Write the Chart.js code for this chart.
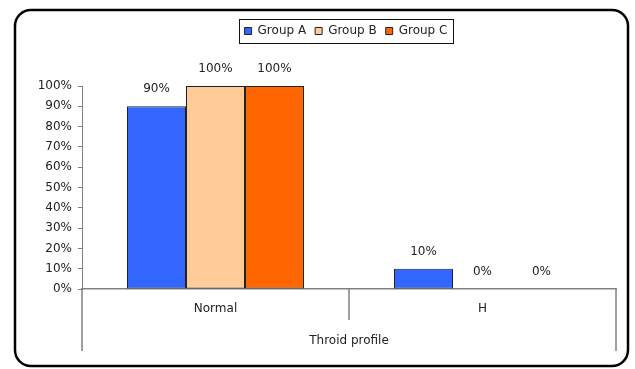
<!DOCTYPE html>
<html>
<head>
<meta charset="utf-8">
<title>Throid profile</title>
<script src="https://cdn.jsdelivr.net/npm/chart.js@4/dist/chart.umd.min.js"></script>
<style>
  html, body { margin: 0; padding: 0; background: #ffffff; }
  #wrap { width: 635px; height: 369px; position: relative; }
</style>
</head>
<body>
<div id="wrap"><canvas id="chart"></canvas></div>
<script>
// Categories and series (percent of each group)
const categories = ['Normal', 'H'];
const seriesNames = ['Group A', 'Group B', 'Group C'];
const groupA = [90, 10];
const groupB = [100, 0];
const groupC = [100, 0];
const seriesColors = ['#3366FF', '#FFCC99', '#FF6600'];
const axisTitle = 'Throid profile';
const yMax = 100;
const yStep = 10;

const FONT = 'DejaVu Sans';
const TEXT = '#222222';
const AXIS = '#808080';

// Keep the legend centred over the plot area rather than the whole canvas
const legendOverPlot = {
  id: 'legendOverPlot',
  afterLayout(chart) {
    const lg = chart.legend;
    const area = chart.chartArea;
    if (!lg || !area) return;
    const shift = (area.left + area.right) / 2 - (lg.left + lg.right) / 2 - 3;
    lg.left += shift;
    lg.right += shift;
  }
};

// Value labels above each bar
const valueLabels = {
  id: 'valueLabels',
  afterDatasetsDraw(chart) {
    const ctx = chart.ctx;
    ctx.save();
    ctx.font = '12px "' + FONT + '"';
    ctx.fillStyle = TEXT;
    ctx.textAlign = 'center';
    ctx.textBaseline = 'middle';
    chart.data.datasets.forEach((ds, di) => {
      const meta = chart.getDatasetMeta(di);
      meta.data.forEach((el, i) => {
        ctx.fillText(ds.data[i] + '%', el.x, el.y - 17);
      });
    });
    ctx.restore();
  }
};

// Category separators, framed legend and rounded outer border
const frame = {
  id: 'frame',
  afterDraw(chart) {
    const ctx = chart.ctx;
    const area = chart.chartArea;
    const xs = chart.scales.x;
    ctx.save();

    // multi-level category axis lines
    ctx.strokeStyle = AXIS;
    ctx.lineWidth = 1.5;
    const low = xs.bottom - 1;
    const mid = (xs.getPixelForValue(0) + xs.getPixelForValue(1)) / 2;
    ctx.beginPath();
    ctx.moveTo(area.left, area.bottom); ctx.lineTo(area.left, low);
    ctx.moveTo(area.right, area.bottom); ctx.lineTo(area.right, low);
    ctx.moveTo(mid, area.bottom); ctx.lineTo(mid, area.bottom + 31);
    ctx.stroke();

    // box around legend items
    const hb = chart.legend.legendHitBoxes;
    if (hb && hb.length) {
      const first = hb[0], last = hb[hb.length - 1];
      ctx.strokeStyle = '#111111';
      ctx.lineWidth = 1;
      const l = Math.round(first.left - 6) + 0.5;
      const r = Math.round(last.left + last.width + 6) + 0.5;
      const t = Math.round(first.top - 6) + 0.5;
      const b = Math.round(first.top + first.height + 6) + 0.5;
      ctx.strokeRect(l, t, r - l, b - t);
    }

    // rounded outer border
    ctx.strokeStyle = '#000000';
    ctx.lineWidth = 2.5;
    ctx.beginPath();
    ctx.roundRect(15, 10, 613, 356, 16);
    ctx.stroke();
    ctx.restore();
  }
};

const datasets = [groupA, groupB, groupC].map((vals, i) => ({
  label: seriesNames[i],
  data: vals,
  backgroundColor: seriesColors[i],
  borderColor: '#222222',
  borderWidth: 1,
  borderSkipped: false,
  categoryPercentage: 0.663,
  barPercentage: 1.0
}));

new Chart(document.getElementById('chart'), {
  type: 'bar',
  data: { labels: categories, datasets: datasets },
  plugins: [legendOverPlot, valueLabels, frame],
  options: {
    responsive: true,
    maintainAspectRatio: false,
    animation: false,
    layout: { padding: { left: 38, right: 19, top: 16, bottom: 17 } },
    plugins: {
      tooltip: { enabled: false },
      legend: {
        position: 'top',
        weight: 1000,
        labels: {
          boxWidth: 7,
          boxHeight: 7,
          padding: 9,
          color: TEXT,
          font: { family: FONT, size: 12 }
        }
      },
      title: {
        display: true,
        text: '',
        weight: 500,
        font: { family: FONT, size: 10, lineHeight: 1 },
        padding: { top: 0, bottom: 29 }
      }
    },
    scales: {
      x: {
        type: 'category',
        afterFit(scale) { scale.height = 63; },
        grid: { display: false, drawTicks: false },
        border: { display: true, color: AXIS, width: 1.5 },
        ticks: { color: TEXT, font: { family: FONT, size: 12 }, padding: 13, maxRotation: 0 },
        title: {
          display: true,
          text: axisTitle,
          color: TEXT,
          font: { family: FONT, size: 12 },
          padding: { top: 0, bottom: 3.5 }
        }
      },
      y: {
        min: 0,
        max: yMax,
        afterFit(scale) { scale.width = 44; },
        grid: { display: true, drawOnChartArea: false, drawTicks: true, tickLength: 4, color: AXIS },
        border: { display: true, color: AXIS, width: 1 },
        ticks: {
          stepSize: yStep,
          padding: 6,
          color: TEXT,
          font: { family: FONT, size: 12 },
          callback: v => v + '%'
        }
      }
    }
  }
});
</script>
</body>
</html>
